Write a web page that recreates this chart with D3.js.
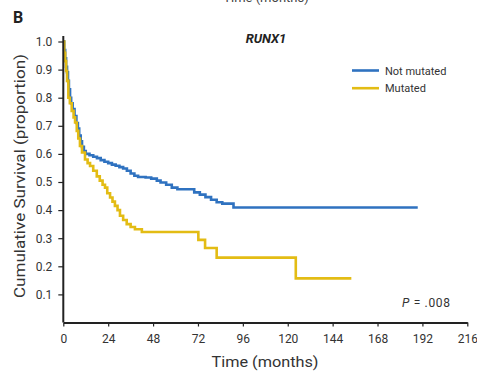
<!DOCTYPE html>
<head>
<meta charset="utf-8">
<style>
  body { margin: 0; background: #fff; }
  text { font-family: Roboto, "Liberation Sans", sans-serif; }
</style>
</head>
<body>
  <svg width="477" height="372"></svg>

  <script src="https://d3js.org/d3.v7.min.js"></script>
  <script>
  // Kaplan-Meier steps: [months, proportion]
  const notMutated = [
    [0, 1.0], [0.5, 0.97], [1, 0.94], [1.5, 0.91], [2, 0.89], [2.5, 0.86],
    [3, 0.83], [3.6, 0.80], [4.2, 0.78], [5, 0.76], [6, 0.735], [7, 0.71],
    [7.8, 0.69], [8.5, 0.665], [9.3, 0.645], [10, 0.625], [11, 0.61],
    [12, 0.60], [14, 0.595], [16, 0.59], [18, 0.585], [20, 0.578],
    [22, 0.572], [24, 0.567], [26, 0.562], [28, 0.558], [30, 0.553],
    [32, 0.548], [34, 0.54], [36, 0.53], [38, 0.522], [40, 0.518],
    [44, 0.516], [47, 0.512], [50, 0.505], [52, 0.498], [55, 0.49],
    [58, 0.48], [61, 0.474], [70, 0.463], [73, 0.455], [76, 0.446],
    [79, 0.437], [82, 0.428], [85, 0.423], [91, 0.409], [189.5, 0.409]
  ];
  const mutated = [
    [0, 1.0], [0.5, 0.96], [1, 0.93], [1.5, 0.895], [2, 0.86], [2.7, 0.80],
    [3.5, 0.78], [4.5, 0.753], [5.5, 0.73], [6.3, 0.712], [7.2, 0.682],
    [8, 0.655], [8.9, 0.628], [10, 0.605], [11.6, 0.58], [13, 0.567],
    [14.3, 0.557], [16, 0.54], [17.9, 0.52], [19.5, 0.505], [21, 0.49],
    [22.3, 0.48], [23.5, 0.46], [25, 0.445], [26.3, 0.43], [27.6, 0.415],
    [29, 0.40], [30.3, 0.38], [32, 0.365], [33.9, 0.35], [36, 0.34],
    [38.3, 0.332], [42, 0.322], [72.2, 0.294], [75.8, 0.265], [82, 0.231],
    [124.3, 0.157], [154, 0.157]
  ];
  const xTicks = [0, 24, 48, 72, 96, 120, 144, 168, 192, 216];
  const yTicks = [0.1, 0.2, 0.3, 0.4, 0.5, 0.6, 0.7, 0.8, 0.9, 1.0];
  const seriesNames = ['Not mutated', 'Mutated'];
  const seriesColors = ['#2f72c0', '#e3bc14'];

  const svg = d3.select('svg');
  const x = d3.scaleLinear().domain([0, 216]).range([63.3, 467.3]);
  const y = d3.scaleLinear().domain([0, 1]).range([322.5, 41.5]);

  const line = d3.line()
    .x(d => x(d[0]))
    .y(d => y(d[1]))
    .curve(d3.curveStepAfter);

  // Curves
  [notMutated, mutated].forEach((data, i) => {
    svg.append('path')
      .datum(data)
      .attr('d', line)
      .attr('fill', 'none')
      .attr('stroke', seriesColors[i])
      .attr('stroke-width', 2.6);
  });

  // Axes
  const xAxis = svg.append('g')
    .attr('transform', `translate(0,${y(0)})`)
    .call(d3.axisBottom(x).tickValues(xTicks).tickSize(4).tickPadding(8).tickSizeOuter(0));
  const yAxis = svg.append('g')
    .attr('transform', `translate(${x(0)},0)`)
    .call(d3.axisLeft(y).tickValues(yTicks).tickSize(5).tickPadding(6)
      .tickFormat(d3.format('.1f')).tickSizeOuter(0));
  [xAxis, yAxis].forEach(g => {
    g.select('.domain').attr('stroke', '#222').attr('stroke-width', 2);
    g.selectAll('.tick line').attr('stroke', '#222').attr('stroke-width', 1.2);
    g.selectAll('.tick text').attr('fill', '#333').style('font-size', '12px')
      .style('font-family', 'Roboto, sans-serif');
  });
  yAxis.select('.domain').attr('d', `M0,${y(0)}V36`);

  // Labels
  svg.append('text').attr('x', 13).attr('y', 23)
    .attr('font-weight', 'bold').attr('font-size', 16).attr('fill', '#222')
    .text('B');
  // heading of the panel above, cut off by the crop
  svg.append('text').attr('x', 266).attr('y', 2)
    .attr('text-anchor', 'middle').attr('font-size', 13).attr('fill', '#444')
    .text('Time (months)');
  svg.append('text').attr('x', 266).attr('y', 43)
    .attr('text-anchor', 'middle').attr('font-weight', 'bold')
    .attr('font-style', 'italic').attr('font-size', 13).attr('fill', '#222')
    .text('RUNX1');
  svg.append('text')
    .attr('transform', 'translate(25,176) rotate(-90)')
    .attr('text-anchor', 'middle').attr('font-size', 15).attr('fill', '#333')
    .attr('textLength', 244).attr('lengthAdjust', 'spacingAndGlyphs')
    .text('Cumulative Survival (proportion)');
  svg.append('text').attr('x', 265).attr('y', 367)
    .attr('text-anchor', 'middle').attr('font-size', 15).attr('fill', '#333')
    .attr('textLength', 107).attr('lengthAdjust', 'spacingAndGlyphs')
    .text('Time (months)');

  const p = svg.append('text').attr('x', 402).attr('y', 307)
    .attr('font-size', 12).attr('fill', '#333')
    .attr('textLength', 48).attr('lengthAdjust', 'spacing');
  p.append('tspan').attr('font-style', 'italic').text('P');
  p.append('tspan').text(' = .008');

  // Legend
  const legend = svg.append('g').selectAll('g')
    .data(seriesNames).enter().append('g')
    .attr('transform', (d, i) => `translate(352,${70.5 + i * 17.7})`);
  legend.append('line')
    .attr('x1', 0).attr('x2', 27)
    .attr('stroke', (d, i) => seriesColors[i]).attr('stroke-width', 2.6);
  legend.append('text')
    .attr('x', 33).attr('y', 4)
    .attr('font-size', 11).attr('fill', '#333')
    .text(d => d);
  </script>
</body>
</html>
